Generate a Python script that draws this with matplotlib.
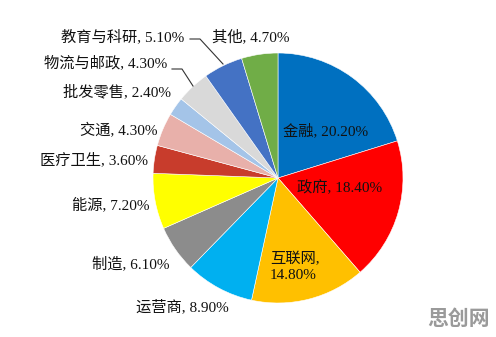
import matplotlib.pyplot as plt

# 行业分布数据（顺时针，从12点方向开始）
industries = ['金融', '政府', '互联网', '运营商', '制造', '能源',
              '医疗卫生', '交通', '批发零售', '物流与邮政', '教育与科研', '其他']
shares = [20.2, 18.4, 14.8, 8.9, 6.1, 7.2, 3.6, 4.3, 2.4, 4.3, 5.1, 4.7]
colors = ['#0070C0', '#FF0000', '#FFC000', '#00B0F0', '#8C8C8C', '#FFFF00',
          '#C83C2C', '#E8B0AA', '#A4C4E8', '#D9D9D9', '#4472C4', '#70AD47']

# 标签位置（像素坐标，y 从顶部算起）和对齐方式
label_pos = [(283, 131, 'left'), (297, 188, 'left'), (270, 267, 'left'),
             (229, 307, 'right'), (170, 264, 'right'), (149, 205, 'right'),
             (148, 160, 'right'), (158, 131, 'right'), (171, 92, 'right'),
             (167, 63, 'right'), (184, 37, 'right'), (212, 37, 'left')]

W, H = 496, 337
fig = plt.figure(figsize=(W / 100, H / 100), dpi=100)
ax = fig.add_axes([0, 0, 1, 1])

cx, cy, r = 278, H - 178, 125
ax.pie(shares, colors=colors, startangle=90, counterclock=False,
       center=(cx, cy), radius=r, frame=True,
       wedgeprops=dict(edgecolor='white', linewidth=0.4))
ax.set_xlim(0, W)
ax.set_ylim(0, H)
ax.set_aspect('equal')
ax.axis('off')

font = ['Liberation Serif', 'Noto Sans CJK SC']
for name, val, (x, y, ha) in zip(industries, shares, label_pos):
    if name == '互联网':
        txt = f'{name},\n{val:.2f}%'
    else:
        txt = f'{name}, {val:.2f}%'
    ax.text(x, H - y, txt, ha=ha, va='center', fontsize=11,
            family=font, color='#111111', linespacing=1.25)

# 引导线
ax.plot([190, 200, 223], [H - 39, H - 39, H - 64], color='#333333', lw=0.8)
ax.plot([172, 182, 193], [H - 69, H - 69, H - 86], color='#333333', lw=0.8)

# 水印
ax.text(490, H - 318, '思创网', ha='right', va='center', fontsize=15,
        family='Noto Sans CJK SC', fontweight='bold', color='#9a9a9a')

fig.savefig('out.png', dpi=100)
